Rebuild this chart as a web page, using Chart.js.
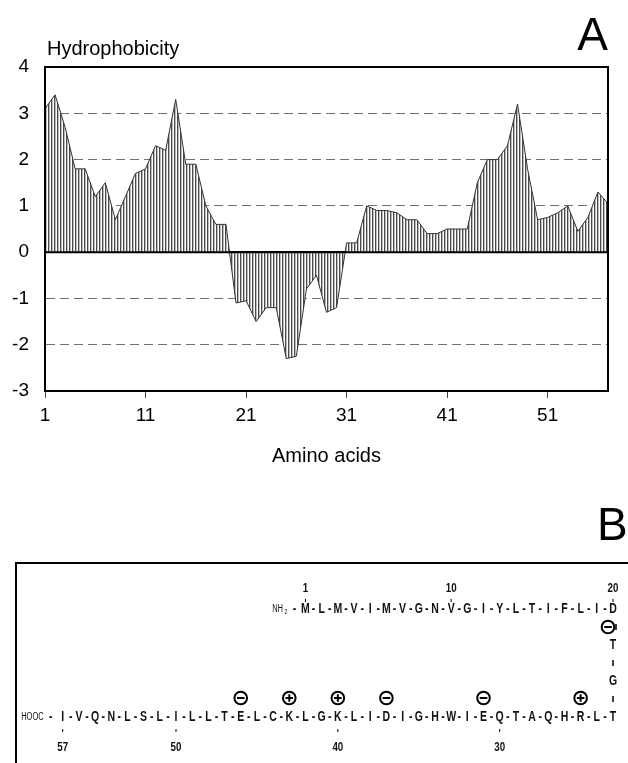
<!DOCTYPE html>
<html>
<head>
<meta charset="utf-8">
<script src="https://cdn.jsdelivr.net/npm/chart.js@4.4.1/dist/chart.umd.min.js"></script>
<style>
  html, body { margin: 0; padding: 0; background: #fff; }
  #wrap { position: relative; width: 628px; height: 763px; overflow: hidden; }
  #plotA { position: absolute; left: 0; top: 0; }
  #plotB { position: absolute; left: 0; top: 490px; }
</style>
</head>
<body>
<div id="wrap">
  <canvas id="plotA" width="628" height="490"></canvas>
  <canvas id="plotB" width="628" height="273"></canvas>
</div>
<script>
Chart.defaults.font.family = '"Liberation Sans", Arial, sans-serif';
Chart.defaults.color = '#000';
Chart.defaults.animation = false;

// panel A - hydrophobicity profile
const residues = [1, 2, 3, 4, 5, 6, 7, 8, 9, 10, 11, 12, 13, 14, 15, 16, 17, 18, 19, 20,
  21, 22, 23, 24, 25, 26, 27, 28, 29, 30, 31, 32, 33, 34, 35, 36, 37, 38, 39, 40,
  41, 42, 43, 44, 45, 46, 47, 48, 49, 50, 51, 52, 53, 54, 55, 56, 57]
const hydrophobicity = [3.1, 3.4, 2.7, 1.8, 1.8, 1.2, 1.5, 0.7, 1.2, 1.7,
  1.8, 2.3, 2.2, 3.3, 1.9, 1.9, 1.0, 0.6, 0.6, -1.1,
  -1.05, -1.5, -1.2, -1.2, -2.3, -2.25, -0.8, -0.5, -1.3, -1.2,
  0.2, 0.2, 1.0, 0.9, 0.9, 0.85, 0.7, 0.7, 0.4, 0.4,
  0.5, 0.5, 0.5, 1.5, 2.0, 2.0, 2.3, 3.2, 1.8, 0.7,
  0.75, 0.85, 1.0, 0.45, 0.75, 1.3, 1.05]
const xTickValues = [1, 11, 21, 31, 41, 51]
const yMin = -3
const yMax = 4

// panel B - sequence
const sequence = 'MLMVIMVGNVGIYLTIFLIDTGTLRHQATQEIWHGIDILKGLKCLETLLILSLNQVI'
const numbered = [1, 10, 20, 30, 40, 50, 57]
const chargedResidues = [20, 25, 31, 37, 40, 43, 46]
const chargeSigns = ['-', '+', '-', '-', '+', '+', '-']

const FONT = '"Liberation Sans", Arial, sans-serif'

const makeHatch = function (ctx) {
  const c = document.createElement('canvas')
  c.width = 3
  c.height = 4
  const g = c.getContext('2d')
  g.fillStyle = '#fff'
  g.fillRect(0, 0, 3, 4)
  g.fillStyle = '#4a4a4a'
  g.fillRect(0, 0, 1, 4)
  g.fillStyle = '#bcbcbc'
  g.fillRect(1, 0, 1, 4)
  return ctx.createPattern(c, 'repeat')
}

const isEdge = v => v === 0 || v === yMin || v === yMax

const frameA = {
  id: 'frameA',
  afterDatasetsDraw(chart) {
    const {ctx, chartArea: a, scales: {y}} = chart
    ctx.save()
    ctx.strokeStyle = '#000'
    ctx.lineWidth = 2
    ctx.strokeRect(a.left, a.top, a.right - a.left, a.bottom - a.top)
    const y0 = y.getPixelForValue(0)
    ctx.beginPath()
    ctx.moveTo(a.left, y0)
    ctx.lineTo(a.right, y0)
    ctx.stroke()
    ctx.fillStyle = '#000'
    ctx.textBaseline = 'alphabetic'
    ctx.font = '20px ' + FONT
    ctx.textAlign = 'left'
    ctx.fillText('Hydrophobicity', 47, 55)
    ctx.textAlign = 'center'
    ctx.fillText('Amino acids', (a.left + a.right) / 2, 462)
    ctx.font = '46px ' + FONT
    ctx.textAlign = 'right'
    ctx.fillText('A', 608, 50)
    ctx.restore()
  }
}

const ctxA = document.getElementById('plotA').getContext('2d')
new Chart(ctxA, {
  type: 'line',
  data: {
    datasets: [{
      data: hydrophobicity.map((v, i) => ({x: residues[i], y: v})),
      borderColor: '#333',
      borderWidth: 1,
      pointRadius: 0,
      tension: 0,
      fill: 'origin',
      backgroundColor: makeHatch(ctxA)
    }]
  },
  options: {
    responsive: false,
    layout: {padding: {left: 0, right: 20, top: 67, bottom: 0}},
    plugins: {legend: {display: false}, tooltip: {enabled: false}},
    scales: {
      x: {
        type: 'linear',
        min: 1,
        max: 57,
        afterBuildTicks: s => { s.ticks = xTickValues.map(v => ({value: v})) },
        afterFit: s => { s.height = 99 },
        ticks: {font: {size: 19}, padding: 6, maxRotation: 0},
        grid: {drawOnChartArea: false, tickLength: 7, color: '#444'},
        border: {color: '#000', width: 2}
      },
      y: {
        min: yMin,
        max: yMax,
        afterFit: s => { s.width = 45 },
        ticks: {stepSize: 1, font: {size: 19}, padding: 16},
        grid: {
          drawTicks: false,
          color: c => (c.tick && isEdge(c.tick.value)) ? '#000' : '#707070',
          lineWidth: c => (c.tick && isEdge(c.tick.value)) ? 2 : 1
        },
        border: {
          color: '#000',
          width: 2,
          dash: c => (c.tick && isEdge(c.tick.value)) ? [] : [9, 5]
        }
      }
    }
  },
  plugins: [frameA]
})

// panel B layout: rows of the folded peptide
const seqPoint = function (n) {
  if (n <= 20) return {x: n + 14, y: 3}
  if (n === 21) return {x: 34, y: 2}
  if (n === 22) return {x: 34, y: 1}
  return {x: 57 - n, y: 0}
}

const narrowText = function (ctx, s, x, y, size, align, weight) {
  ctx.save()
  ctx.translate(x, y)
  ctx.scale(0.75, 1)
  ctx.font = (weight || 'bold') + ' ' + size + 'px ' + FONT
  ctx.textAlign = align || 'center'
  ctx.textBaseline = 'middle'
  ctx.fillText(s, 0, 0)
  ctx.restore()
}

const drawCharge = function (ctx, x, y, sign) {
  ctx.beginPath()
  ctx.arc(x, y, 6.3, 0, Math.PI * 2)
  ctx.moveTo(x - 3.8, y)
  ctx.lineTo(x + 3.8, y)
  if (sign === '+') {
    ctx.moveTo(x, y - 3.8)
    ctx.lineTo(x, y + 3.8)
  }
  ctx.stroke()
}

const seqPlugin = {
  id: 'seqPlugin',
  afterDatasetsDraw(chart) {
    const ctx = chart.ctx
    const pts = chart.getDatasetMeta(0).data
    const pos = n => pts[n - 1]
    ctx.save()
    ctx.strokeStyle = '#000'
    ctx.fillStyle = '#111'
    ctx.lineWidth = 2
    ctx.beginPath()
    ctx.moveTo(16, 300)
    ctx.lineTo(16, 73)
    ctx.lineTo(640, 73)
    ctx.stroke()

    ctx.font = '46px ' + FONT
    ctx.textAlign = 'left'
    ctx.textBaseline = 'alphabetic'
    ctx.fillStyle = '#000'
    ctx.fillText('B', 597, 50)
    ctx.fillStyle = '#111'

    for (let n = 1; n <= sequence.length; n++) {
      const p = pos(n)
      narrowText(ctx, sequence[n - 1], p.x, p.y, 14)
      if (n > 1) {
        const q = pos(n - 1)
        if (Math.abs(q.y - p.y) < 1) {
          narrowText(ctx, '-', (p.x + q.x) / 2, p.y, 14)
        } else {
          const dx = n === 21 ? 3 : 0
          const my = (p.y + q.y) / 2
          ctx.lineWidth = 1.5
          ctx.beginPath()
          ctx.moveTo(p.x + dx, my - 3)
          ctx.lineTo(p.x + dx, my + 3)
          ctx.stroke()
        }
      }
    }

    // chain ends
    const first = pos(1)
    narrowText(ctx, '-', first.x - 11, first.y, 14)
    narrowText(ctx, '2', first.x - 18, first.y + 3, 7, 'right', 'normal')
    narrowText(ctx, 'NH', first.x - 22.5, first.y, 10, 'right', 'normal')
    const last = pos(sequence.length)
    narrowText(ctx, '-', last.x - 12, last.y, 14)
    narrowText(ctx, 'HOOC', last.x - 19, last.y, 10, 'right', 'normal')

    // residue numbers
    ctx.lineWidth = 1
    numbered.forEach(n => {
      const p = pos(n)
      const top = seqPoint(n).y === 3
      const ny = top ? p.y - 21 : p.y + 30
      narrowText(ctx, String(n), p.x, ny, 13)
      ctx.beginPath()
      if (top) {
        ctx.moveTo(p.x, p.y - 10)
        ctx.lineTo(p.x, p.y - 7)
      } else {
        ctx.moveTo(p.x, p.y + 12)
        ctx.lineTo(p.x, p.y + 15)
      }
      ctx.stroke()
    })

    // charges
    ctx.lineWidth = 2
    ctx.strokeStyle = '#000'
    chargedResidues.forEach((n, i) => {
      const p = pos(n)
      if (seqPoint(n).y === 3) drawCharge(ctx, p.x - 5, p.y + 18, chargeSigns[i])
      else drawCharge(ctx, p.x, p.y - 19, chargeSigns[i])
    })
    ctx.restore()
  }
}

new Chart(document.getElementById('plotB').getContext('2d'), {
  type: 'scatter',
  data: {
    datasets: [{
      data: sequence.split('').map((aa, i) => seqPoint(i + 1)),
      pointRadius: 0
    }]
  },
  options: {
    responsive: false,
    layout: {padding: {left: 62.7, right: 15, top: 119, bottom: 46}},
    plugins: {legend: {display: false}, tooltip: {enabled: false}},
    scales: {
      x: {display: false, min: 0, max: 34},
      y: {display: false, min: 0, max: 3}
    }
  },
  plugins: [seqPlugin]
})
</script>
</body>
</html>
